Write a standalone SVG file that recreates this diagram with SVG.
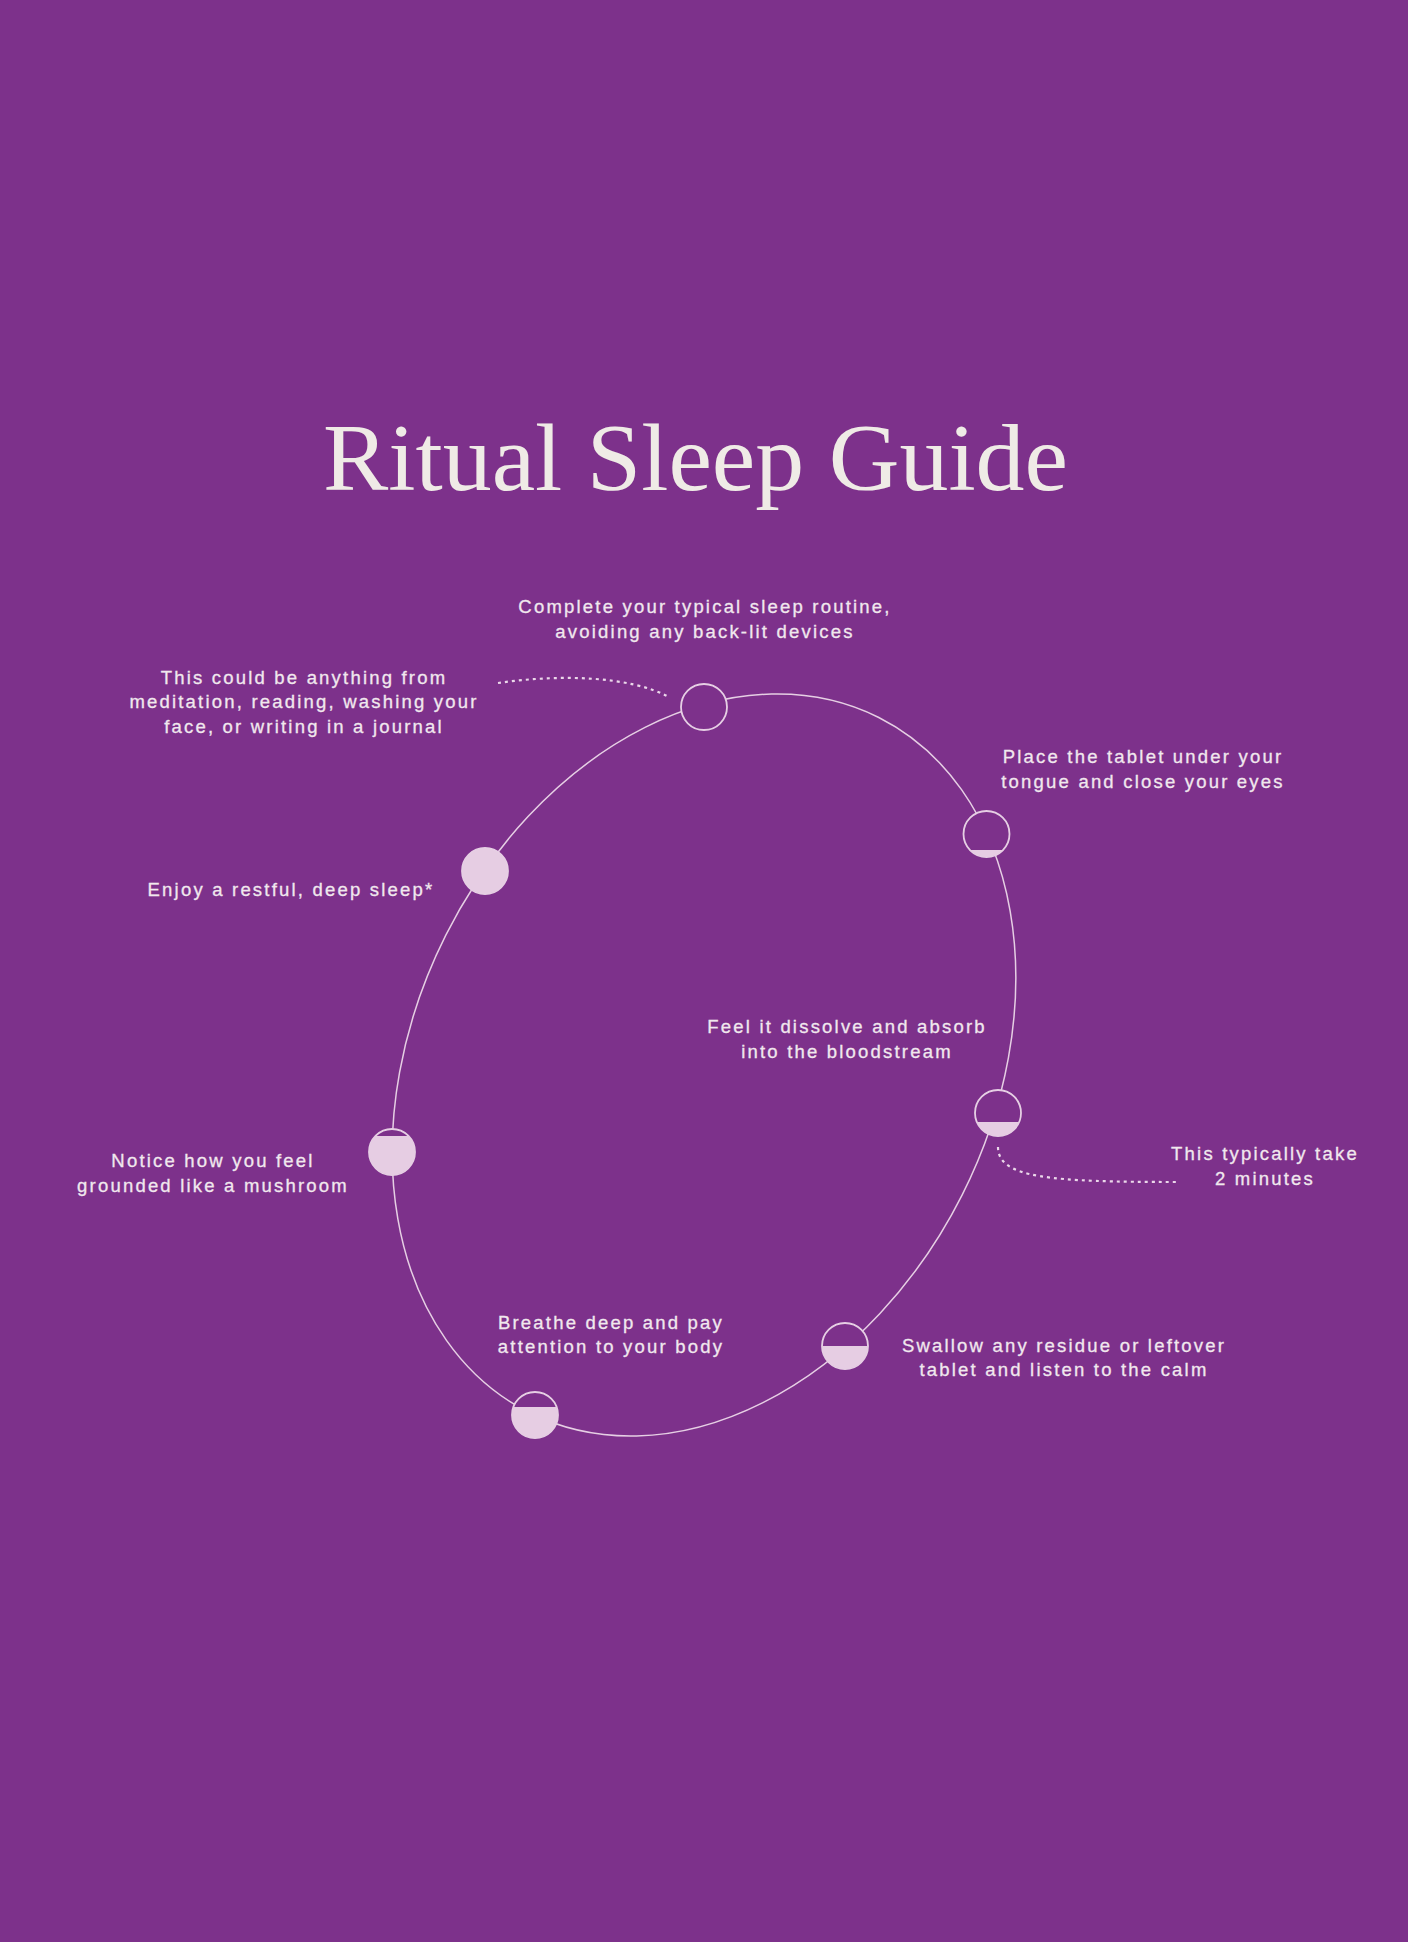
<svg xmlns="http://www.w3.org/2000/svg" width="1408" height="1942" viewBox="0 0 1408 1942">
  <style>
    .bg { fill: #7D318B; }
    .title { font-family: "Liberation Serif", "DejaVu Serif", serif; font-size: 95px; fill: #EFEBE6; }
    .label { font-family: "Liberation Sans", Arial, sans-serif; font-size: 18.5px; letter-spacing: 2.2px; fill: #F1E8EE; stroke: #F1E8EE; stroke-width: 0.3; text-anchor: middle; }
    .orbit { fill: none; stroke: #E6CFE4; stroke-width: 1.5; }
    .dots { fill: none; stroke: #EBD8EA; stroke-width: 2.2; stroke-dasharray: 3 4; }
    .ring { fill: #7D318B; stroke: #E6CFE4; stroke-width: 1.8; }
    .fill { fill: #E6CDE3; }
  </style>
  <rect class="bg" x="0" y="0" width="1408" height="1942"/>
  <rect x="0" y="353" width="1186" height="210" fill="#ffffff" opacity="0.005"/>

  <text class="title" x="323" y="490" textLength="745" lengthAdjust="spacingAndGlyphs">Ritual Sleep Guide</text>

  <g id="connectors">
    <ellipse class="orbit" cx="704" cy="1065" rx="289" ry="389" transform="rotate(26.7 704 1065)"/>
    <path class="dots" d="M 498 683 C 560 674, 630 676, 669 697"/>
    <path class="dots" d="M 998 1147 C 998 1178, 1050 1182, 1178 1182"/>
  </g>

  <g id="step1">
    <circle class="ring" cx="704" cy="707" r="23"/>
    <text class="label" x="705" y="613">Complete your typical sleep routine,</text>
    <text class="label" x="705" y="638">avoiding any back-lit devices</text>
  </g>

  <g id="note1">
    <text class="label" x="304" y="684">This could be anything from</text>
    <text class="label" x="304" y="708">meditation, reading, washing your</text>
    <text class="label" x="304" y="733">face, or writing in a journal</text>
  </g>

  <g id="step2">
    <circle class="ring" cx="986.5" cy="834" r="23"/>
    <path class="fill" d="M 969.98 850 A 23 23 0 0 0 1003.02 850 Z"/>
    <text class="label" x="1143" y="763">Place the tablet under your</text>
    <text class="label" x="1143" y="788">tongue and close your eyes</text>
  </g>

  <g id="step3">
    <circle class="ring" cx="998" cy="1113" r="23"/>
    <path class="fill" d="M 976.83 1122 A 23 23 0 0 0 1019.17 1122 Z"/>
    <text class="label" x="847" y="1033">Feel it dissolve and absorb</text>
    <text class="label" x="847" y="1058">into the bloodstream</text>
  </g>

  <g id="note3">
    <text class="label" x="1265" y="1160">This typically take</text>
    <text class="label" x="1265" y="1185">2 minutes</text>
  </g>

  <g id="step4">
    <circle class="ring" cx="845" cy="1346" r="23"/>
    <path class="fill" d="M 822 1346 A 23 23 0 0 0 868 1346 Z"/>
    <text class="label" x="1064" y="1352">Swallow any residue or leftover</text>
    <text class="label" x="1064" y="1376">tablet and listen to the calm</text>
  </g>

  <g id="step5">
    <circle class="ring" cx="535" cy="1415" r="23"/>
    <path class="fill" d="M 513.44 1407 A 23 23 0 1 0 556.56 1407 Z"/>
    <text class="label" x="611" y="1329">Breathe deep and pay</text>
    <text class="label" x="611" y="1353">attention to your body</text>
  </g>

  <g id="step6">
    <circle class="ring" cx="392" cy="1152" r="23"/>
    <path class="fill" d="M 375.48 1136 A 23 23 0 1 0 408.52 1136 Z"/>
    <text class="label" x="213" y="1167">Notice how you feel</text>
    <text class="label" x="213" y="1192">grounded like a mushroom</text>
  </g>

  <g id="step7">
    <circle class="ring" cx="485" cy="871" r="23" style="fill:#E6CDE3"/>
    <text class="label" x="291" y="896">Enjoy a restful, deep sleep*</text>
  </g>
</svg>
